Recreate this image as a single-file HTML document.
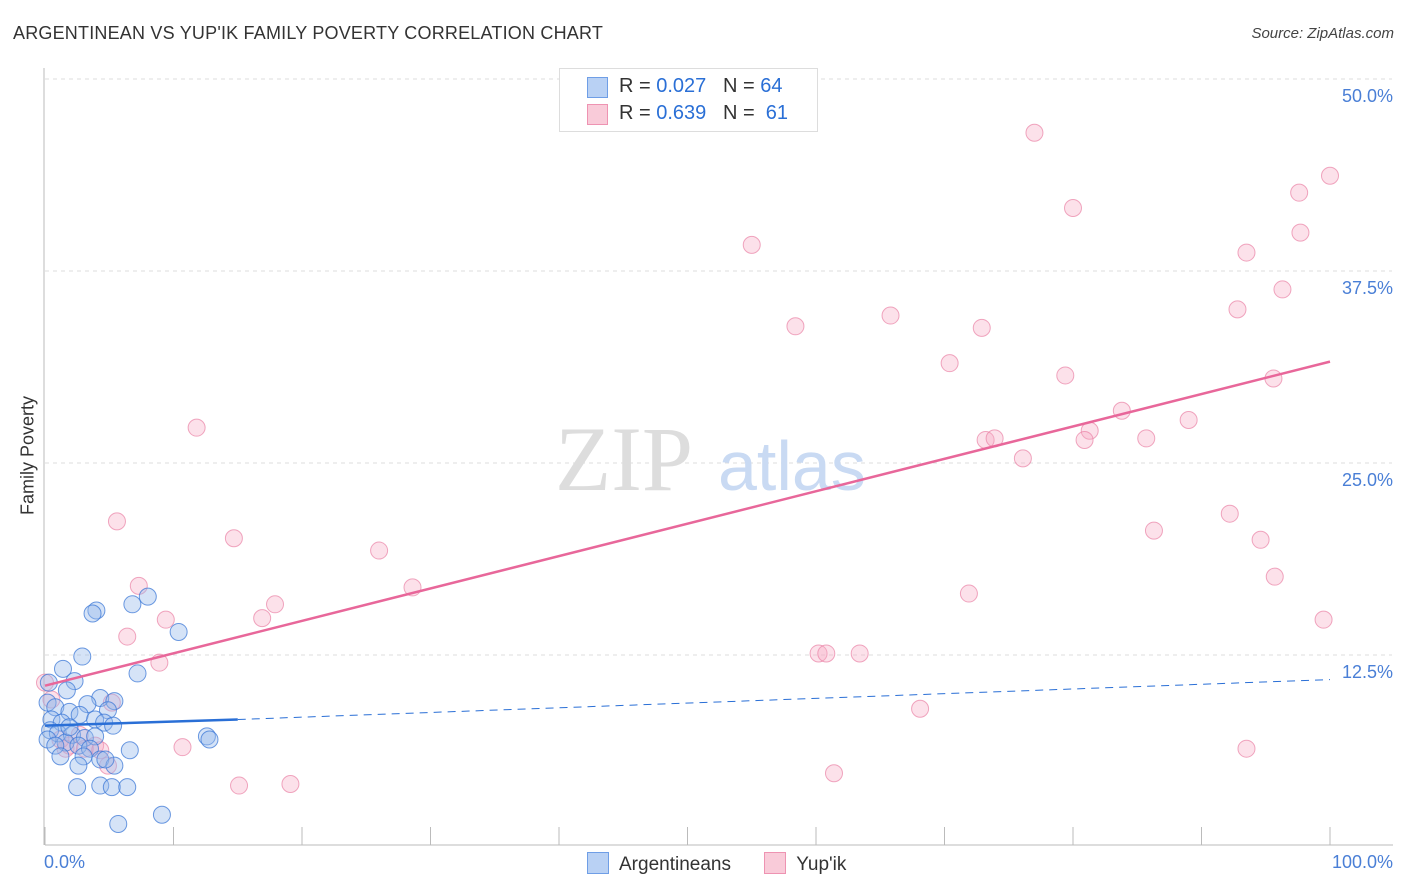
<!DOCTYPE html>
<html><head><meta charset="utf-8"><style>
body{margin:0;background:#fff;font-family:"Liberation Sans",sans-serif}
#wrap{position:relative;width:1406px;height:892px;overflow:hidden}
</style></head><body>
<div id="wrap">
<div style="position:absolute;left:13px;top:23px;font-size:18px;color:#333;letter-spacing:0.2px">ARGENTINEAN VS YUP'IK FAMILY POVERTY CORRELATION CHART</div>
<div style="position:absolute;right:12px;top:25px;font-size:15px;color:#444;font-style:italic">Source: ZipAtlas.com</div>
<svg id="svg" width="1406" height="892" style="position:absolute;left:0;top:0"></svg>
</div>
<script>
const xTickVals=[0,10,20,30,40,50,60,70,80,90,100];
const yTickVals=[12.5,25,37.5,50];
const yTickLabels=["12.5%","25.0%","37.5%","50.0%"];
const blueX=[4.0,3.7,6.8,8.0,10.4,7.2,2.9,1.4,2.3,1.7,4.3,5.4,0.2,3.3,0.8,1.9,4.9,2.7,0.5,1.3,3.9,4.6,5.3,0.4,1.0,2.1,3.1,3.9,0.2,1.6,2.6,3.5,0.8,12.6,12.8,6.6,1.2,3.0,4.3,2.6,5.4,2.5,4.3,5.2,6.4,5.7,9.1,4.7,1.9,0.3];
const blueY=[15.4,15.2,15.8,16.3,14.0,11.3,12.4,11.6,10.8,10.2,9.7,9.5,9.4,9.3,9.1,8.8,8.9,8.6,8.3,8.1,8.3,8.1,7.9,7.6,7.4,7.3,7.1,7.2,7.0,6.8,6.6,6.4,6.6,7.2,7.0,6.3,5.9,5.9,5.7,5.3,5.3,3.9,4.0,3.9,3.9,1.5,2.1,5.7,7.8,10.7];
const pinkX=[77.0,100,97.6,80.0,55.0,93.5,97.7,96.3,92.8,58.4,65.8,72.9,70.4,79.4,95.6,83.8,89.0,11.8,73.2,73.9,81.3,80.9,85.7,76.1,5.6,14.7,92.2,86.3,94.6,26.0,95.7,7.3,28.6,71.9,17.9,9.4,16.9,99.5,6.4,8.9,60.2,60.8,63.4,68.1,10.7,93.5,61.4,15.1,19.1,0,0.5,5.2,1.9,3.9,1.2,3.1,4.3,4.9,2.7,1.6];
const pinkY=[46.5,43.7,42.6,41.6,39.2,38.7,40.0,36.3,35.0,33.9,34.6,33.8,31.5,30.7,30.5,28.4,27.8,27.3,26.5,26.6,27.1,26.5,26.6,25.3,21.2,20.1,21.7,20.6,20.0,19.3,17.6,17.0,16.9,16.5,15.8,14.8,14.9,14.8,13.7,12.0,12.6,12.6,12.6,9.0,6.5,6.4,4.8,4.0,4.1,10.7,9.6,9.4,6.6,6.6,7.0,6.4,6.3,5.3,7.3,6.4];
const blueLine=[7.9,8.3,10.9]; // at x=0, x=15, x=100
const pinkLine=[10.5,31.6]; // at x=0, x=100
const X0=45,X1=1330,Y0=847,YS=768/50;
const sx=v=>X0+(X1-X0)*v/100, sy=v=>Y0-v*YS;
const svg=document.getElementById('svg');const NS='http://www.w3.org/2000/svg';
function mk(t,a){const e=document.createElementNS(NS,t);for(const k in a)e.setAttribute(k,a[k]);svg.appendChild(e);return e;}
yTickVals.forEach((v,i)=>{
 const g=mk('line',{x1:45,x2:1392,y1:sy(v),y2:sy(v),stroke:'#ddd','stroke-dasharray':'4,4'});
 
 
 const t=mk('text',{x:1393,y:sy(v)+23,'text-anchor':'end','font-size':18,fill:'#4a7fd6'});t.textContent=yTickLabels[i];
 
 
});
const ax=mk('line',{x1:45,x2:1393,y1:845,y2:845,stroke:'#bbb'});


const ay=mk('line',{x1:44,x2:44,y1:68,y2:845,stroke:'#bbb'});


xTickVals.forEach(v=>{const t=mk('line',{x1:sx(v),x2:sx(v),y1:827,y2:845,stroke:'#bbb'});
 
 });
const w1=mk('text',{x:555,y:490,'font-size':92,fill:'#ddd','font-family':'Liberation Serif'});w1.textContent='ZIP';


const w2=mk('text',{x:718,y:490,'font-size':70,fill:'#c9daf3'});w2.textContent='atlas';


pinkX.forEach((x,i)=>{const c=mk('circle',{cx:sx(x),cy:sy(pinkY[i]),r:8.5,fill:'rgba(246,170,195,0.35)',stroke:'rgba(234,130,165,0.7)','stroke-width':1});
 
 });
blueX.forEach((x,i)=>{const c=mk('circle',{cx:sx(x),cy:sy(blueY[i]),r:8.5,fill:'rgba(150,185,235,0.4)',stroke:'rgba(60,120,215,0.75)','stroke-width':1});
 
 });
const pl=mk('line',{x1:sx(0),y1:sy(pinkLine[0]),x2:sx(100),y2:sy(pinkLine[1]),stroke:'#e8679a','stroke-width':2.5});


const bl=mk('line',{x1:sx(0),y1:sy(blueLine[0]),x2:sx(15),y2:sy(blueLine[1]),stroke:'#2a6fd6','stroke-width':2.5});


const bd=mk('line',{x1:sx(15),y1:sy(blueLine[1]),x2:sx(100),y2:sy(blueLine[2]),stroke:'#2a6fd6','stroke-width':1,'stroke-dasharray':'8,6'});


</script>
<div style="position:absolute;left:-42px;top:445px;transform:rotate(-90deg);font-size:18px;color:#333;width:140px;text-align:center;white-space:nowrap">Family Poverty</div>
<div style="position:absolute;left:44px;top:852px;font-size:18px;color:#4a7fd6">0.0%</div>
<div style="position:absolute;right:13px;top:852px;font-size:18px;color:#4a7fd6">100.0%</div>
<div style="position:absolute;left:559px;top:68px;width:257px;height:62px;border:1px solid #ddd;background:#fff;font-size:20px;color:#333">
 <div style="position:absolute;left:27px;top:6px;white-space:pre"><span style="position:absolute;left:0;top:2px;width:19px;height:19px;background:#b9d1f4;border:1px solid #6f9ee6"></span><span style="position:absolute;left:32px">R = <span style="color:#2a6fd6">0.027</span>   N = <span style="color:#2a6fd6">64</span></span></div>
 <div style="position:absolute;left:27px;top:33px;white-space:pre"><span style="position:absolute;left:0;top:2px;width:19px;height:19px;background:#f9cbd9;border:1px solid #ee93b2"></span><span style="position:absolute;left:32px">R = <span style="color:#2a6fd6">0.639</span>   N = <span style="color:#2a6fd6"> 61</span></span></div>
</div>
<div style="position:absolute;left:587px;top:852px;font-size:19px;color:#333;white-space:nowrap">
 <span><span style="display:inline-block;width:20px;height:20px;background:#b9d1f4;border:1px solid #6f9ee6;vertical-align:-4px;margin-right:10px"></span>Argentineans</span>
 <span style="margin-left:28px"><span style="display:inline-block;width:20px;height:20px;background:#f9cbd9;border:1px solid #ee93b2;vertical-align:-4px;margin-right:10px"></span>Yup'ik</span>
</div>
</body></html>
